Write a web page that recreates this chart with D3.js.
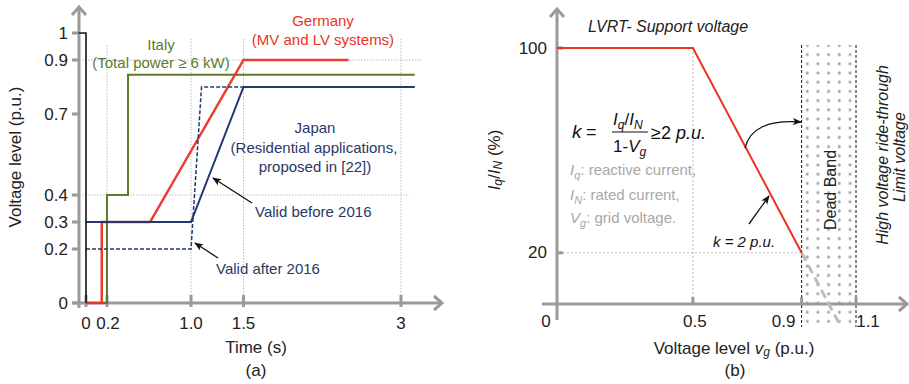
<!DOCTYPE html>
<html><head><meta charset="utf-8">
<script src="https://cdn.jsdelivr.net/npm/d3@7"></script>
<style>body{margin:0;background:#fff}svg{display:block;font-family:"Liberation Sans",Arial,sans-serif}</style>
</head><body><svg id="c" width="909" height="384"></svg>
<script>
// ---------- data: panel (a) ----------
const timeTicks = [0, 0.2, 1.0, 1.5, 3];
const timeTickLabels = ["0", "0.2", "1.0", "1.5", "3"];
const voltTicks = [0, 0.2, 0.3, 0.4, 0.7, 0.9, 1];
const voltTickLabels = ["0", "0.2", "0.3", "0.4", "0.7", "0.9", "1"];
const preFault = [[-0.07, 1], [0, 1], [0, 0]];
const germany = [[0, 0], [0.15, 0], [0.15, 0.3], [0.61, 0.3], [1.5, 0.9], [2.5, 0.9]];
const italy = [[0, 0], [0.2, 0], [0.2, 0.4], [0.4, 0.4], [0.4, 0.845], [3.13, 0.845]];
const japanBefore = [[0, 0.3], [1.0, 0.3], [1.5, 0.8], [3.13, 0.8]];
const japanAfter = [[0, 0.2], [1.0, 0.2], [1.1, 0.8], [3.13, 0.8]];
// ---------- data: panel (b) ----------
const vgTicks = [0, 0.5, 0.9, 1.1];
const vgTickLabels = ["0", "0.5", "0.9", "1.1"];
const iqTicks = [20, 100];
const iqTickLabels = ["20", "100"];
const lvrtCurve = [[0, 100], [0.5, 100], [0.9, 20]];
const lvrtExtension = [[0.9, 20], [1.045, -9]];
const deadBand = [0.9, 1.1];

const svg = d3.select("#c");
const gray = "#9a9a9a", red = "#ea3323", olive = "#5b7a2e", navy = "#1f3a70", navyText = "#2b3866";
const defs = svg.append("defs");
defs.append("marker").attr("id", "ah").attr("viewBox", "0 0 10 10").attr("refX", 9).attr("refY", 5)
  .attr("markerWidth", 9).attr("markerHeight", 9).attr("markerUnits", "userSpaceOnUse").attr("orient", "auto")
  .append("path").attr("d", "M0,1 L10,5 L0,9 L2.5,5 Z").attr("fill", "#111");
const pat = defs.append("pattern").attr("id", "dots").attr("patternUnits", "userSpaceOnUse")
  .attr("x", 802).attr("y", 50).attr("width", 10.7).attr("height", 9.2);
pat.append("circle").attr("cx", 5.2).attr("cy", 4.6).attr("r", 1.5).attr("fill", "#a4a4a4");

// ================= panel (a) =================
const xL = d3.scaleLinear().domain([0, 3]).range([86, 401]);
const yL = d3.scaleLinear().domain([0, 1]).range([303, 33]);
const lineL = d3.line().x(d => xL(d[0])).y(d => yL(d[1]));
const gA = svg.append("g");

// grid
[0.2, 1.0, 1.5, 3].forEach(t => {
  gA.append("line").attr("x1", xL(t)).attr("x2", xL(t)).attr("y1", t === 0.2 ? 45 : 39).attr("y2", yL(0))
    .attr("stroke", "#bdbdbd").attr("stroke-width", 1).attr("stroke-dasharray", "1.5,1.5");
});
[[0.9, 3.2], [0.4, 3.08]].forEach(([v, tEnd]) => {
  gA.append("line").attr("x1", 79).attr("x2", xL(tEnd)).attr("y1", yL(v)).attr("y2", yL(v))
    .attr("stroke", "#bdbdbd").attr("stroke-width", 1).attr("stroke-dasharray", "1.5,1.5");
});

// axes
gA.append("line").attr("x1", 79).attr("x2", 79).attr("y1", 7).attr("y2", 308).attr("stroke", gray).attr("stroke-width", 3);
gA.append("polyline").attr("points", "72,15 79,7 86,15").attr("fill", "none").attr("stroke", gray).attr("stroke-width", 3);
gA.append("line").attr("x1", 72).attr("x2", 441).attr("y1", yL(0)).attr("y2", yL(0)).attr("stroke", gray).attr("stroke-width", 3);
gA.append("polyline").attr("points", `434,${yL(0)-7} 442,${yL(0)} 434,${yL(0)+7}`).attr("fill", "none").attr("stroke", gray).attr("stroke-width", 3);
voltTicks.forEach(v => gA.append("line").attr("x1", 72).attr("x2", 79).attr("y1", yL(v)).attr("y2", yL(v)).attr("stroke", gray).attr("stroke-width", 3));
timeTicks.forEach(t => gA.append("line").attr("x1", xL(t)).attr("x2", xL(t)).attr("y1", yL(0) - 8).attr("y2", yL(0) + 4).attr("stroke", gray).attr("stroke-width", 3));

// tick labels
voltTicks.forEach((v, i) => gA.append("text").attr("x", 68).attr("y", yL(v)).attr("text-anchor", "end")
  .attr("dominant-baseline", "central").attr("font-size", 17).attr("fill", "#222").text(voltTickLabels[i]));
timeTicks.forEach((t, i) => gA.append("text").attr("x", xL(t) + (i === 1 ? 1 : 0)).attr("y", 323).attr("text-anchor", "middle")
  .attr("dominant-baseline", "central").attr("font-size", 17).attr("fill", "#222").text(timeTickLabels[i]));
gA.append("text").attr("x", 256).attr("y", 347).attr("text-anchor", "middle").attr("dominant-baseline", "central")
  .attr("font-size", 17).attr("fill", "#222").text("Time (s)");
gA.append("text").attr("x", 256).attr("y", 370).attr("text-anchor", "middle").attr("dominant-baseline", "central")
  .attr("font-size", 17).attr("fill", "#222").text("(a)");
gA.append("text").attr("transform", "translate(15,157) rotate(-90)").attr("text-anchor", "middle").attr("dominant-baseline", "central")
  .attr("font-size", 17).attr("fill", "#222").text("Voltage level (p.u.)");

// series
gA.append("path").attr("d", lineL(italy)).attr("fill", "none").attr("stroke", olive).attr("stroke-width", 2);
gA.append("path").attr("d", lineL(germany)).attr("fill", "none").attr("stroke", red).attr("stroke-width", 2.5).attr("stroke-opacity", 0.95);
gA.append("path").attr("d", lineL(japanAfter)).attr("fill", "none").attr("stroke", navy).attr("stroke-width", 1.5).attr("stroke-dasharray", "4,2");
gA.append("path").attr("d", lineL(japanBefore)).attr("fill", "none").attr("stroke", navy).attr("stroke-width", 2);
gA.append("path").attr("d", lineL(preFault)).attr("fill", "none").attr("stroke", "#111").attr("stroke-width", 1.6);

// annotations
const ann = (g, x, y, txt, col, size, anchor, italic) => g.append("text").attr("x", x).attr("y", y)
  .attr("text-anchor", anchor || "middle").attr("font-size", size || 15).attr("fill", col)
  .attr("font-style", italic ? "italic" : "normal").text(txt);
ann(gA, 323, 26, "Germany", red);
ann(gA, 323, 45, "(MV and LV systems)", red);
ann(gA, 161, 50, "Italy", olive);
ann(gA, 161, 68, "(Total power \u2265 6 kW)", olive);
ann(gA, 315, 133, "Japan", navyText);
ann(gA, 314, 153, "(Residential applications,", navyText);
ann(gA, 315, 172, "proposed in [22])", navyText);
ann(gA, 255, 217, "Valid before 2016", navyText, 15, "start");
ann(gA, 216, 274, "Valid after 2016", navyText, 15, "start");
gA.append("line").attr("x1", 252).attr("y1", 203).attr("x2", 213).attr("y2", 178).attr("stroke", "#111").attr("stroke-width", 1.3).attr("marker-end", "url(#ah)");
gA.append("line").attr("x1", 218).attr("y1", 258).attr("x2", 195).attr("y2", 243).attr("stroke", "#111").attr("stroke-width", 1.3).attr("marker-end", "url(#ah)");

// ================= panel (b) =================
const xR = d3.scaleLinear().domain([0, 1.1]).range([557, 856]);
const yR = d3.scaleLinear().domain([0, 100]).range([304, 48]);
const lineR = d3.line().x(d => xR(d[0])).y(d => yR(d[1]));
const gB = svg.append("g");

// dead band
gB.append("rect").attr("x", xR(deadBand[0])).attr("y", 45).attr("width", xR(deadBand[1]) - xR(deadBand[0])).attr("height", 282).attr("fill", "url(#dots)");
deadBand.forEach(v => gB.append("line").attr("x1", xR(v)).attr("x2", xR(v)).attr("y1", 45).attr("y2", 327)
  .attr("stroke", "#111").attr("stroke-width", 1).attr("stroke-dasharray", "3,2"));

// grid
gB.append("line").attr("x1", xR(0.5)).attr("x2", xR(0.5)).attr("y1", yR(100)).attr("y2", yR(0))
  .attr("stroke", "#bdbdbd").attr("stroke-width", 1).attr("stroke-dasharray", "2,2");
gB.append("line").attr("x1", 563).attr("x2", xR(0.9)).attr("y1", yR(20)).attr("y2", yR(20))
  .attr("stroke", "#bdbdbd").attr("stroke-width", 1).attr("stroke-dasharray", "2,2");

// axes
gB.append("line").attr("x1", 557).attr("x2", 557).attr("y1", 9).attr("y2", 320).attr("stroke", gray).attr("stroke-width", 3);
gB.append("polyline").attr("points", "550,17 557,9 564,17").attr("fill", "none").attr("stroke", gray).attr("stroke-width", 3);
gB.append("line").attr("x1", 542).attr("x2", 906).attr("y1", yR(0)).attr("y2", yR(0)).attr("stroke", gray).attr("stroke-width", 3);
gB.append("polyline").attr("points", `899,${yR(0)-7} 907,${yR(0)} 899,${yR(0)+7}`).attr("fill", "none").attr("stroke", gray).attr("stroke-width", 3);
iqTicks.forEach(v => gB.append("line").attr("x1", 557).attr("x2", 563).attr("y1", yR(v)).attr("y2", yR(v)).attr("stroke", gray).attr("stroke-width", 3));
vgTicks.slice(1).forEach(v => gB.append("line").attr("x1", xR(v)).attr("x2", xR(v)).attr("y1", yR(0) - 7).attr("y2", yR(0)).attr("stroke", gray).attr("stroke-width", 3));

iqTicks.forEach((v, i) => gB.append("text").attr("x", 547).attr("y", yR(v)).attr("text-anchor", "end")
  .attr("dominant-baseline", "central").attr("font-size", 17).attr("fill", "#222").text(iqTickLabels[i]));
const vgOff = [-11, 2, -18, 12];
vgTicks.forEach((v, i) => gB.append("text").attr("x", xR(v) + vgOff[i]).attr("y", 321).attr("text-anchor", "middle")
  .attr("dominant-baseline", "central").attr("font-size", 17).attr("fill", "#222").text(vgTickLabels[i]));

// curve
gB.append("path").attr("d", lineR(lvrtExtension)).attr("fill", "none").attr("stroke", "#bdbdbd").attr("stroke-width", 3).attr("stroke-dasharray", "9,5");
gB.append("path").attr("d", lineR(lvrtCurve)).attr("fill", "none").attr("stroke", red).attr("stroke-width", 2);

// axis titles
const xt = gB.append("text").attr("x", 734).attr("y", 348).attr("text-anchor", "middle").attr("dominant-baseline", "central")
  .attr("font-size", 17).attr("fill", "#222");
xt.append("tspan").text("Voltage level ");
xt.append("tspan").attr("font-style", "italic").text("v");
xt.append("tspan").attr("font-style", "italic").attr("font-size", 12).attr("dy", 4).text("g");
xt.append("tspan").attr("dy", -4).text(" (p.u.)");
gB.append("text").attr("x", 735).attr("y", 370).attr("text-anchor", "middle").attr("dominant-baseline", "central")
  .attr("font-size", 17).attr("fill", "#222").text("(b)");
const yt = gB.append("text").attr("transform", "translate(494,160) rotate(-90)").attr("text-anchor", "middle")
  .attr("dominant-baseline", "central").attr("font-size", 17).attr("fill", "#222");
yt.append("tspan").attr("font-style", "italic").text("I");
yt.append("tspan").attr("font-style", "italic").attr("font-size", 12).attr("dy", 4).text("q");
yt.append("tspan").attr("dy", -4).text("/");
yt.append("tspan").attr("font-style", "italic").text("I");
yt.append("tspan").attr("font-style", "italic").attr("font-size", 12).attr("dy", 4).text("N");
yt.append("tspan").attr("dy", -4).text(" (%)");

// annotations
ann(gB, 588, 32, "LVRT- Support voltage", "#222", 16, "start", true);
ann(gB, 572, 138, "k", "#111", 19, "start", true);
ann(gB, 586, 138, "=", "#111", 18, "start");
const num = gB.append("text").attr("x", 613).attr("y", 125).attr("font-size", 17).attr("fill", "#111").attr("font-style", "italic");
num.append("tspan").text("I");
num.append("tspan").attr("font-size", 12).attr("dy", 4).text("q");
num.append("tspan").attr("dy", -4).attr("font-style", "normal").text("/");
num.append("tspan").text("I");
num.append("tspan").attr("font-size", 12).attr("dy", 4).text("N");
gB.append("line").attr("x1", 612).attr("x2", 648).attr("y1", 132).attr("y2", 132).attr("stroke", "#111").attr("stroke-width", 1.2);
const den = gB.append("text").attr("x", 613).attr("y", 152).attr("font-size", 17).attr("fill", "#111");
den.append("tspan").text("1-");
den.append("tspan").attr("font-style", "italic").text("V");
den.append("tspan").attr("font-style", "italic").attr("font-size", 12).attr("dy", 4).text("g");
const rhs = gB.append("text").attr("x", 651).attr("y", 139).attr("font-size", 18).attr("fill", "#111");
rhs.append("tspan").text("\u22652 ");
rhs.append("tspan").attr("font-style", "italic").text("p.u.");

const legendG = [["q", ": reactive current,", 175, "I"], ["N", ": rated current,", 200, "I"], ["g", ": grid voltage.", 223, "V"]];
legendG.forEach(([sub, rest, y, sym]) => {
  const t = gB.append("text").attr("x", 570).attr("y", y).attr("font-size", 15).attr("fill", "#a8a8a8");
  t.append("tspan").attr("font-style", "italic").text(sym);
  t.append("tspan").attr("font-style", "italic").attr("font-size", 11).attr("dy", 4).text(sub);
  t.append("tspan").attr("dy", -4).text(rest);
});
ann(gB, 713, 247, "k = 2 p.u.", "#111", 15, "start", true);
gB.append("line").attr("x1", 749).attr("y1", 224).attr("x2", 769).attr("y2", 196).attr("stroke", "#111").attr("stroke-width", 1.3).attr("marker-end", "url(#ah)");
gB.append("path").attr("d", "M745,148 C750,128 768,120 801,122").attr("fill", "none").attr("stroke", "#111").attr("stroke-width", 1.3).attr("marker-end", "url(#ah)");

gB.append("text").attr("transform", "translate(830,190) rotate(-90)").attr("text-anchor", "middle").attr("dominant-baseline", "central")
  .attr("font-size", 16).attr("fill", "#222").text("Dead Band");
gB.append("text").attr("transform", "translate(882,155) rotate(-90)").attr("text-anchor", "middle").attr("dominant-baseline", "central")
  .attr("font-size", 16).attr("font-style", "italic").attr("fill", "#222").text("High voltage ride-through");
gB.append("text").attr("transform", "translate(899,157) rotate(-90)").attr("text-anchor", "middle").attr("dominant-baseline", "central")
  .attr("font-size", 16).attr("font-style", "italic").attr("fill", "#222").text("Limit voltage");
</script></body></html>
